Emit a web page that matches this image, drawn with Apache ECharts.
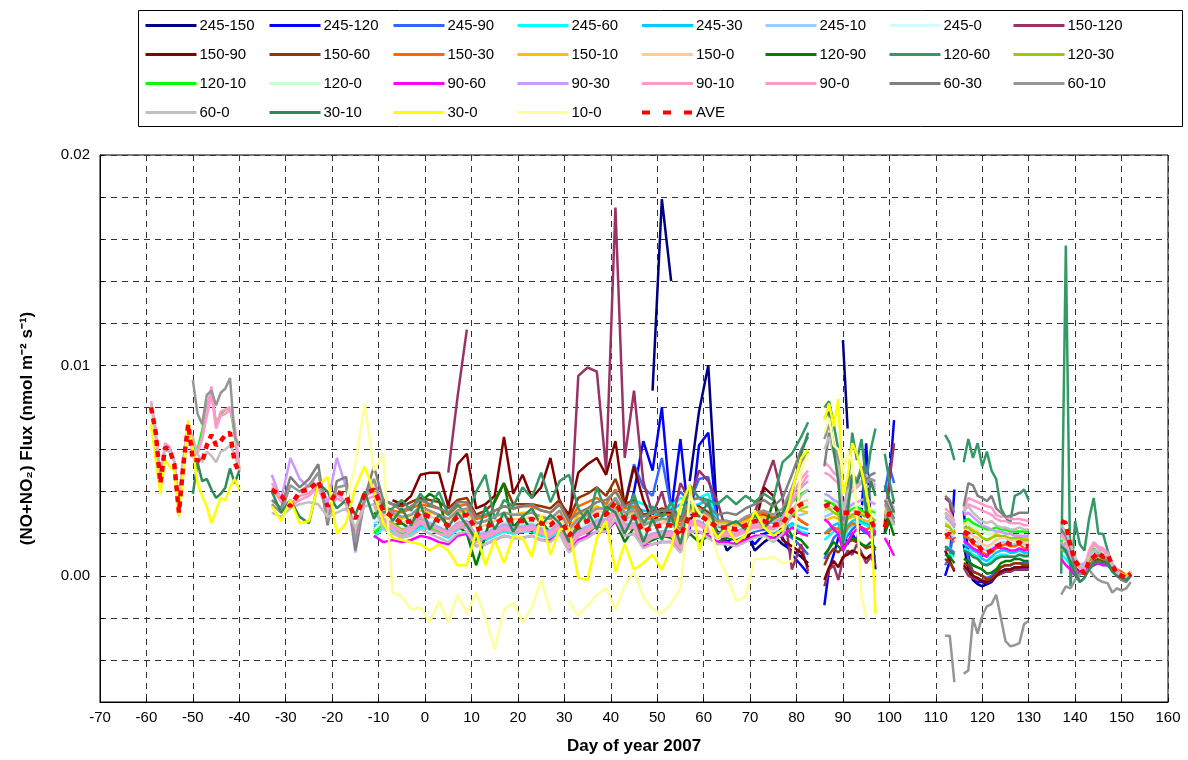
<!DOCTYPE html>
<html><head><meta charset="utf-8">
<script src="https://cdn.jsdelivr.net/npm/echarts@6/dist/echarts.min.js"></script>
<style>html,body{margin:0;padding:0;background:#fff}#c{width:1188px;height:760px}</style>
</head><body><div id="c"></div>
<script>
// Values in units of 1e-3 nmol m-2 s-1 ; null = no data
const _ = null;
const NA = n => Array(n).fill(null);

const days = [
  -59,-58,-57,-56,-55,-54,-53,-52,-51,-50,-49,-48,-47,-46,-45,-44,-43,-42,-41,-40,
  -36,
  -33,-31,-29,-27,-25,-23,-21,-19,-17,-15,-13,-11,-9,-7,-5,-3,-1,1,3,5,7,9,11,13,15,17,19,21,23,25,
  27,29,31,33,35,37,39,41,43,45,47,49,51,53,55,57,59,61,63,65,67,69,71,73,75,77,79,81,82.5,
  84,
  86,87,88,89,90,91,92,93,94,95,96,97,98,99,100,101,
  106,
  112,113,114,115,116,117,118,119,120,121,122,123,124,125,126,127,128,129,130,
  134,
  137,138,139,140,141,142,143,144,145,146,147,148,149,150,151,152
];

const names = ['245-150','245-120','245-90','245-60','245-30','245-10','245-0','150-120',
  '150-90','150-60','150-30','150-10','150-0','120-90','120-60','120-30',
  '120-10','120-0','90-60','90-30','90-10','90-0','60-30','60-10',
  '60-0','30-10','30-0','10-0','AVE'];
const colors = ['#000080','#0000FF','#3366FF','#00FFFF','#00CCFF','#99CCFF','#CCFFFF','#993366',
  '#800000','#993300','#FF6600','#FFC000','#FFCC99','#008000','#339966','#99CC00',
  '#00FF00','#CCFFCC','#FF00FF','#CC99FF','#FF99CC','#FF99CC','#808080','#969696',
  '#C0C0C0','#2E8B57','#FFFF00','#FFFF99','#FF0000'];

const s245_150 = [...NA(20),_,
  ...NA(41),8.8,17.9,14.0,_,4.5,7.8,10.0,2.4,1.2,1.6,2.2,1.2,1.6,1.9,1.5,1.2,0.9,0.6,_,
  _,_,_,_,11.2,7.0,_,_,_,_,_,_,_,_,_,_,_,
  _,_,_,_,1.5,0.3,-0.2,-0.4,-0.5,-0.4,-0.3,0.0,0.1,0.2,0.2,0.3,0.3,0.3,0.3,_,
  ...NA(16)];
const s245_120 = [...NA(20),_,
  ...NA(11),2.2,2.6,2.4,2.0,2.3,2.6,2.5,2.2,2.0, 2.5,2.7,1.8,1.9,2.2,2.4,2.3,2.2,2.5,2.2,
  2.0,2.5,1.5,2.2,2.4,2.6,2.5,3.0,2.4,4.0, 6.4,5.0,8.0,3.0,6.5,2.2,6.2,6.8,2.4,1.6,
  1.9,2.0,1.5,2.0,2.1,1.8,1.0,0.5,0.1,_,
  -1.4,0.3,1.0,1.8,2.2,1.5,2.0,1.6,3.0,6.3,2.5,0.3,_,2.0,4.5,7.4,_,
  0.0,0.7,4.1,_,3.1,1.0,-0.1,-0.3,-0.3,-0.4,-0.25,0.15,0.2,0.3,0.3,0.4,0.4,0.4,0.4,_,
  ...NA(16)];
const s245_90 = [...NA(20),_,
  ...NA(11),2.3,2.5,2.3,2.1,2.2,2.5,2.4,2.2,2.0, 2.4,2.5,1.8,1.9,2.1,2.3,2.2,2.2,2.3,2.1,
  2.0,2.4,1.5,2.1,2.3,2.6,2.6,3.2,3.4,5.3, 4.2,3.8,5.6,3.2,4.0,3.5,4.6,4.7,2.6,1.8,
  1.8,2.0,2.1,2.2,2.0,2.1,1.8,1.4,1.0,_,
  0.8,1.3,1.8,2.0,1.6,1.9,2.2,2.4,2.2,2.0,2.1,1.9,_,4.0,5.2,4.4,_,
  0.5,0.9,2.5,_,2.0,0.8,0.2,0.1,0.0,-0.1,0.0,0.3,0.4,0.5,0.5,0.6,0.6,0.6,0.6,_,
  ...NA(16)];
const s245_60 = [...NA(20),_,
  ...NA(11),1.8,2.3,2.1,1.9,2.0,2.3,2.2,2.0,1.8, 2.2,2.3,1.6,1.7,1.9,2.1,2.0,2.1,2.1,1.9,
  1.8,2.2,1.3,1.9,2.1,2.4,2.4,3.0,2.4,3.6, 3.4,3.2,2.9,3.3,3.7,3.6,3.7,3.9,2.5,2.2,
  2.0,2.2,2.4,2.4,2.2,2.3,2.4,2.1,2.0,_,
  1.7,1.9,2.1,2.3,1.5,2.2,2.4,2.6,2.5,2.4,2.3,2.2,_,2.8,3.0,2.5,_,
  1.1,1.0,0.9,_,1.3,1.2,1.0,0.9,0.6,0.5,0.7,0.9,1.0,1.0,0.9,0.9,1.0,0.9,0.9,_,
  1.0,0.8,0.5,0.2,0.1,0.1,0.3,0.5,0.6,0.5,0.5,0.2,0.0,-0.1,-0.1,0.0];
const s245_30 = [...NA(20),_,
  ...NA(11),2.4,2.4,2.2,2.0,2.1,2.4,2.3,2.1,1.9, 2.3,2.4,1.7,1.8,2.0,2.2,2.1,2.1,2.2,2.0,
  1.9,2.3,1.4,2.0,2.2,2.5,2.5,3.1,2.6,3.3, 3.1,3.0,2.8,3.1,3.4,3.3,3.4,3.6,2.3,2.0,
  1.9,2.1,2.3,2.3,2.1,2.2,2.5,2.3,2.2,_,
  2.0,2.2,2.4,2.5,1.8,2.4,2.6,2.7,2.6,2.5,2.4,2.3,_,2.9,3.1,2.7,_,
  1.4,1.3,1.1,_,1.5,1.4,1.2,1.1,0.8,0.7,0.9,1.1,1.2,1.2,1.1,1.1,1.2,1.1,1.1,_,
  1.3,1.1,0.7,0.3,0.2,0.2,0.5,0.7,0.7,0.6,0.6,0.3,0.0,-0.1,-0.1,0.0];
const s245_10 = [...NA(20),_,
  ...NA(11),2.5,2.7,2.5,2.2,2.3,2.7,2.5,2.3,2.1, 2.5,2.6,2.0,2.1,2.3,2.5,2.4,2.4,2.5,2.3,
  2.2,2.6,1.7,2.2,2.4,2.7,2.7,3.3,2.5,2.9, 2.5,2.6,2.5,2.7,2.4,3.0,3.0,3.1,2.2,2.1,
  2.0,2.2,2.4,2.4,2.2,2.3,2.8,2.9,3.0,_,
  2.8,2.9,3.0,2.9,2.2,2.8,2.9,3.0,2.9,2.8,2.7,2.6,_,3.1,3.2,2.9,_,
  2.0,2.0,1.8,_,2.1,2.0,1.7,1.6,1.3,1.2,1.3,1.5,1.6,1.6,1.5,1.5,1.6,1.5,1.5,_,
  2.0,1.8,1.2,0.7,0.4,0.3,0.8,1.0,1.0,0.9,0.9,0.5,0.1,0.0,-0.1,0.1];
const s245_0 = [...NA(20),_,
  ...NA(11),2.6,2.8,2.6,2.3,2.4,2.8,2.6,2.4,2.2, 2.6,2.7,2.1,2.2,2.4,2.6,2.5,2.5,2.6,2.4,
  2.3,2.7,1.8,2.3,2.5,2.8,2.8,3.4,2.6,2.7, 2.0,2.2,2.3,2.3,1.8,2.8,2.8,2.5,2.2,2.2,
  2.1,2.3,2.5,2.5,2.3,2.4,3.0,3.3,3.4,_,
  3.0,3.1,3.2,3.0,2.4,3.0,3.1,3.1,3.0,2.9,2.8,2.7,_,3.2,3.3,3.0,_,
  2.1,2.1,1.9,_,2.2,2.1,1.8,1.7,1.4,1.3,1.4,1.6,1.7,1.7,1.6,1.6,1.7,1.6,1.6,_,
  2.2,2.0,1.3,0.7,0.4,0.3,0.8,1.0,1.0,0.9,0.9,0.5,0.1,0.0,-0.1,0.1];
const s150_120 = [...NA(20),_,
  ...NA(19),4.9,8.5,11.7,...NA(10),1.3,9.5,9.9,9.7,5.0,17.5,5.6,8.8,4.5,2.9,
  4.0,2.3,4.4,3.6,5.0,4.5,3.5,2.0,1.8,2.0, 3.0,4.3,5.5,3.7,0.3,1.5,0.2,_,
  -0.5,0.3,0.5,-0.2,0.8,1.2,1.0,1.5,1.1,0.6,0.9,0.5,_,2.5,4.5,6.3,_,
  3.7,3.5,2.0,_,0.4,0.0,-0.1,-0.2,-0.2,-0.3,-0.2,0.0,0.1,0.2,0.2,0.3,0.3,0.3,0.3,_,
  ...NA(16)];
const s150_90 = [...NA(20),_,
  ...NA(13),3.6,3.4,3.8,4.8,4.9,4.9,3.3, 5.3,5.8,3.2,3.4,3.8,6.6,3.9,4.8,3.7,4.2,
  5.6,3.5,2.9,4.9,5.3,5.6,4.8,6.4,3.3,5.2, 3.6,2.6,3.0,3.0,2.8,2.7,3.0,2.8,2.1,1.9,
  1.7,1.7,2.3,4.2,3.8,1.7,1.4,1.1,0.4,_,
  -0.2,0.4,0.7,0.4,0.9,1.0,1.2,1.1,1.0,0.8,1.0,0.9,_,2.4,3.4,3.5,_,
  1.2,0.7,0.2,_,0.5,0.25,0.0,-0.1,-0.25,-0.3,-0.2,0.0,0.2,0.3,0.3,0.4,0.4,0.45,0.45,_,
  ...NA(16)];
const s150_60 = [...NA(20),_,
  ...NA(11),3.4,3.6,3.4,3.3,3.5,3.7,3.6,3.5,3.2, 3.6,3.7,2.9,3.1,3.5,4.4,3.4,3.4,3.4,3.3,
  3.2,3.6,2.7,3.7,3.9,4.2,3.8,4.6,3.4,3.6, 2.9,3.0,3.2,3.1,2.6,3.3,3.3,3.0,2.6,2.6,
  2.4,2.6,2.8,2.9,2.7,2.6,2.9,2.6,2.4,_,
  0.5,1.0,1.3,1.1,1.4,1.6,1.7,1.6,1.5,1.3,1.4,1.2,_,2.2,2.9,3.1,_,
  0.8,0.6,0.3,_,0.6,0.5,0.2,0.1,0.0,-0.2,-0.1,0.1,0.4,0.5,0.5,0.6,0.6,0.5,0.5,_,
  1.5,1.2,0.8,0.4,0.2,0.3,0.3,0.7,0.8,0.7,0.7,0.3,0.1,0.0,-0.1,0.1];
const s150_30 = [...NA(20),_,
  ...NA(11),3.2,3.3,3.1,3.0,3.2,3.4,3.3,3.2,2.9, 3.3,3.4,2.7,2.8,3.1,3.3,3.2,3.3,3.3,3.1,
  3.0,3.4,2.5,3.3,3.5,3.7,3.4,4.1,3.2,3.3, 2.6,2.8,2.9,2.9,2.4,3.2,3.2,2.9,2.6,2.6,
  2.5,2.7,2.9,3.0,2.8,2.9,3.0,2.6,2.4,_,
  2.0,2.1,2.3,2.2,1.9,2.3,2.5,2.4,2.3,2.2,2.3,2.1,_,2.9,3.2,2.9,_,
  1.8,1.8,1.6,_,1.9,1.8,1.5,1.4,1.1,1.0,1.1,1.3,1.4,1.5,1.4,1.4,1.5,1.3,1.3,_,
  1.9,1.7,1.1,0.6,0.4,0.4,0.7,0.9,0.9,0.8,0.8,0.4,0.3,0.2,0.0,0.2];
const s150_10 = [...NA(20),_,
  ...NA(11),3.0,3.0,2.9,2.7,2.9,3.1,3.0,2.9,2.7, 3.0,3.1,2.5,2.6,2.8,3.0,2.9,3.0,3.0,2.8,
  2.7,3.1,2.2,2.9,3.1,3.3,3.1,3.7,2.9,3.0, 2.4,2.6,2.7,2.7,2.2,3.1,3.1,2.8,2.5,2.5,
  2.4,2.6,2.8,2.8,2.6,2.8,3.2,3.1,3.0,_,
  2.6,2.7,2.8,2.7,2.3,2.7,2.8,2.8,2.7,2.6,2.6,2.4,_,3.0,3.3,3.0,_,
  2.5,2.4,2.1,_,2.5,2.5,2.2,2.1,1.8,1.7,1.8,2.0,2.0,2.0,1.9,1.9,1.9,1.8,1.8,_,
  2.2,1.9,1.3,0.8,0.5,0.5,0.9,1.1,1.0,1.0,0.9,0.5,0.2,0.1,0.0,0.2];
const s150_0 = [...NA(20),_,
  ...NA(11),2.8,2.9,2.7,2.5,2.7,2.9,2.8,2.7,2.5, 2.9,2.9,2.3,2.4,2.6,2.8,2.7,2.7,2.8,2.6,
  2.5,2.9,2.0,2.6,2.8,3.1,3.0,3.6,2.8,2.9, 2.2,2.4,2.5,2.5,2.0,3.0,3.0,2.7,2.4,2.4,
  2.3,2.5,2.7,2.7,2.5,2.6,3.2,3.5,3.6,_,
  3.1,3.2,3.3,3.1,2.5,3.0,3.1,3.1,3.0,2.9,2.8,2.6,_,3.2,3.4,3.1,_,
  2.2,2.1,1.9,_,2.3,2.2,1.9,1.8,1.5,1.4,1.5,1.7,1.8,1.8,1.7,1.7,1.8,1.6,1.6,_,
  2.3,2.0,1.4,0.8,0.5,0.4,0.9,1.1,1.1,1.0,0.9,0.5,0.1,0.0,-0.1,0.1];
const s120_90 = [...NA(20),_,
  ...NA(11),3.0,2.6,2.4,2.5,2.2,3.5,3.9,3.6,2.0, 2.4,2.0,0.5,1.9,3.6,4.4,2.3,2.8,2.1,2.6,
  2.0,2.4,1.3,2.3,2.0,2.4,2.2,2.6,1.6,2.3, 1.5,1.7,1.9,1.8,1.4,2.0,1.6,1.9,1.6,1.8,
  1.7,2.1,2.4,2.2,3.5,2.7,1.9,1.7,1.3,_,
  1.0,1.3,1.6,1.4,1.2,1.6,1.8,1.7,1.5,1.4,1.6,1.3,_,2.0,2.6,1.9,_,
  1.0,0.9,0.6,_,0.8,0.7,0.5,0.4,0.3,0.1,0.15,0.3,0.6,0.7,0.7,0.8,0.8,0.7,0.7,_,
  ...NA(16)];
const s120_60 = [...NA(20),_,
  ...NA(11),3.6,3.0,3.2,3.6,3.1,3.9,3.3,4.0,2.9, 3.4,2.8,4.0,4.8,2.7,3.6,3.3,4.2,3.7,4.9,
  3.5,4.5,4.8,3.2,2.5,4.2,3.0,3.7,2.6,3.9, 2.4,3.3,2.8,3.5,2.6,4.3,3.7,3.6,3.4,3.8,
  3.4,3.8,3.5,3.9,3.6,5.4,5.8,6.6,7.3,_,
  8.0,8.3,7.2,6.0,1.8,4.0,6.8,5.5,6.5,4.5,6.0,7.0,_,5.8,4.5,3.5,_,
  6.7,6.3,5.5,_,5.4,6.5,5.6,6.3,5.2,5.9,5.0,4.6,3.2,2.8,2.5,3.8,3.9,4.1,3.6,_,
  0.1,15.7,-0.5,2.6,1.5,1.2,2.7,3.7,2.0,2.0,1.2,0.5,0.3,0.0,-0.1,0.05];
const s120_30 = [...NA(20),_,
  ...NA(11),2.1,2.7,2.5,2.2,2.3,2.7,2.5,2.3,2.1, 2.5,2.6,1.9,2.0,2.2,2.4,2.3,2.3,2.4,2.2,
  2.1,2.5,1.6,2.1,2.3,2.6,2.6,3.2,2.4,2.5, 1.8,2.0,2.1,2.1,1.6,2.6,2.6,2.3,2.0,2.0,
  1.9,2.1,2.3,2.4,2.2,2.4,2.9,3.2,3.3,_,
  3.3,3.2,3.0,2.9,2.2,2.7,2.9,3.0,2.9,2.8,2.8,2.6,_,2.9,3.0,2.7,_,
  2.4,2.3,2.0,_,2.3,2.3,2.1,2.0,1.8,1.7,1.8,1.9,1.9,1.9,1.8,1.8,1.8,1.7,1.7,_,
  1.2,1.6,1.1,0.6,0.4,0.4,0.8,1.0,0.9,0.8,0.8,0.4,0.1,-0.1,-0.1,0.1];
const s120_10 = [...NA(9),6.1,6.0,6.9,8.0,8.8,7.2,7.7,7.9,8.0,6.8,5.1,_,
  ...NA(11),2.0,2.5,2.3,2.0,2.2,2.5,2.3,2.1,1.9, 2.3,2.4,1.7,1.8,2.0,2.2,2.1,2.2,2.3,2.0,
  1.9,2.3,1.4,2.0,2.2,2.4,2.4,3.0,2.2,2.3, 1.6,1.8,1.9,1.9,1.4,2.4,2.5,2.2,1.9,1.9,
  1.8,2.0,2.3,2.5,2.2,2.7,3.5,3.9,4.1,_,
  3.6,3.5,3.4,3.2,2.5,3.0,3.2,3.3,3.1,3.0,3.1,3.0,_,2.7,3.0,2.4,_,
  3.0,2.8,2.4,_,2.6,2.7,2.5,2.4,2.3,2.2,2.2,2.3,2.2,2.2,2.1,2.1,2.1,2.1,2.1,_,
  1.6,2.0,1.4,0.8,0.5,0.5,1.0,1.3,1.1,1.0,0.9,0.5,0.1,0.0,-0.1,0.1];
const s120_0 = [...NA(20),_,
  ...NA(11),2.2,2.6,2.4,2.1,2.2,2.6,2.4,2.2,2.0, 2.4,2.5,1.8,1.9,2.1,2.3,2.2,2.2,2.3,2.1,
  2.0,2.4,1.5,2.0,2.2,2.5,2.5,3.1,2.3,2.4, 1.7,1.9,2.0,2.0,1.5,2.5,2.5,2.2,1.9,1.9,
  1.8,2.0,2.2,2.3,2.1,2.4,3.0,3.3,3.4,_,
  3.9,3.8,3.6,3.4,2.7,3.2,3.3,3.4,3.3,3.2,3.2,3.1,_,3.2,3.3,2.9,_,
  2.6,2.5,2.2,_,2.4,2.5,2.3,2.2,2.1,2.0,2.0,2.1,2.0,2.0,1.9,1.9,1.9,1.9,1.9,_,
  1.8,1.7,1.2,0.8,0.5,0.4,0.9,1.1,1.0,0.9,0.9,0.5,0.1,0.0,-0.1,0.1];
const s90_60 = [...NA(20),_,
  ...NA(11),1.9,1.6,1.7,1.6,1.7,1.9,1.8,1.6,1.5, 1.9,2.0,1.4,1.5,1.7,1.9,1.8,1.8,1.9,1.7,
  1.7,2.0,1.2,1.7,1.9,2.1,2.1,2.6,1.9,2.0, 1.4,1.5,1.6,1.6,1.2,2.1,2.1,1.9,1.6,1.6,
  1.5,1.7,1.9,1.9,1.8,1.9,2.3,2.0,1.9,_,
  2.7,2.5,2.2,2.0,1.2,1.6,2.0,2.2,2.3,2.15,1.8,2.15,_,1.8,1.4,0.95,_,
  1.25,1.2,1.1,_,1.65,1.5,1.3,1.2,1.0,0.9,1.2,1.4,1.3,1.3,1.2,1.2,1.3,1.2,1.25,_,
  0.8,0.5,0.3,0.0,0.2,0.3,0.4,0.5,0.6,0.5,0.5,0.3,0.0,-0.1,-0.1,0.0];
const s90_30 = [...NA(20),_,
  4.8,3.6,5.6,4.6,4.2,4.9,3.4,5.6,4.2,1.1, 3.6,4.6,2.6,2.3,2.1,2.4,2.8,2.5,2.3,2.1,
  2.5,2.6,1.9,2.0,2.2,2.4,2.3,2.3,2.4,2.2, 2.1,2.5,1.6,2.1,2.3,2.6,2.6,3.1,2.4,2.5,
  1.8,2.0,2.1,2.1,1.6,2.6,2.6,2.3,2.0,2.1, 2.1,2.3,2.5,2.6,2.5,2.8,3.6,4.2,4.5,_,
  3.9,3.8,3.6,3.5,2.5,3.2,3.4,3.5,3.6,3.7,3.5,3.4,_,2.8,3.0,2.6,_,
  2.8,2.6,2.3,_,2.9,3.0,2.8,2.6,2.4,2.3,2.2,2.1,2.1,2.0,2.0,1.9,1.9,1.9,1.9,_,
  1.6,1.3,0.9,0.6,0.5,0.6,0.9,1.2,0.9,1.0,0.9,0.5,0.1,0.0,-0.1,0.0];
const s90_10 = [8.3,7.0,4.6,6.3,6.1,5.4,3.2,5.6,7.3,5.6,5.9,6.6,7.8,9.0,7.1,7.8,7.9,8.0,7.2,5.0,_,
  4.4,3.7,3.4,3.8,3.9,4.4,3.1,3.9,3.5,2.0, 3.8,4.0,2.7,2.4,2.1,2.2,2.6,2.4,2.2,2.0,
  2.4,2.5,1.8,1.9,2.1,2.3,2.2,2.2,2.3,2.1, 2.0,2.4,1.5,2.0,2.2,2.5,2.5,3.1,2.3,2.4,
  1.7,1.9,2.0,2.0,1.5,2.5,2.5,2.2,1.9,2.0, 2.0,2.2,2.4,2.4,2.3,2.6,3.8,4.6,5.0,_,
  4.9,4.8,4.6,4.4,3.0,3.8,4.0,4.2,4.4,4.6,4.4,4.2,_,3.4,3.5,3.1,_,
  3.2,3.0,2.6,_,3.2,3.7,3.6,3.5,3.4,3.3,3.25,2.9,2.8,2.8,2.7,2.7,2.7,2.65,2.6,_,
  2.0,1.8,1.2,0.8,0.5,0.3,1.2,1.6,1.4,1.3,1.1,0.6,0.3,0.0,-0.1,0.1];
const s90_0 = [...NA(9),6.0,5.8,6.5,7.6,8.6,7.0,7.6,7.7,7.9,7.0,5.0,_,
  4.2,3.5,3.3,3.6,3.8,4.2,3.0,3.7,3.4,1.8, 3.6,3.8,2.6,2.2,1.9,2.1,2.5,2.2,2.0,1.9,
  2.3,2.3,1.6,1.8,2.0,2.2,2.1,2.1,2.2,2.0, 1.9,2.3,1.3,1.9,2.1,2.4,2.3,2.9,2.2,2.3,
  1.5,1.8,1.9,1.9,1.3,2.4,2.4,2.1,1.8,1.9, 1.9,2.1,2.3,2.3,2.2,2.5,3.5,4.3,4.8,_,
  5.4,5.2,4.9,4.7,3.2,4.0,4.2,4.4,4.5,4.8,4.5,4.3,_,3.6,3.6,3.2,_,
  3.0,2.8,2.4,_,3.0,3.4,3.3,3.2,3.1,3.0,2.9,2.7,2.6,2.6,2.5,2.5,2.5,2.4,2.4,_,
  1.9,1.7,1.0,0.6,0.4,0.3,1.1,1.5,1.3,1.2,1.0,0.5,0.2,0.0,-0.1,0.1];
const s60_30 = [...NA(20),_,
  3.6,3.2,4.7,4.2,4.6,5.3,2.4,4.5,4.7,1.2, 3.7,5.2,3.6,3.4,3.1,3.3,3.6,3.4,3.2,3.0,
  3.5,3.5,2.8,2.9,3.1,3.3,3.2,3.3,3.4,3.1, 3.0,3.4,2.6,3.0,3.2,3.5,3.6,4.0,3.3,3.5,
  2.8,3.0,3.1,3.1,2.6,3.6,3.7,3.3,2.9,3.0, 2.9,3.2,3.4,3.6,3.3,3.7,4.8,6.0,6.6,_,
  5.2,6.8,5.9,5.0,2.6,3.8,4.7,4.5,5.2,4.5,4.8,4.9,_,3.6,3.2,2.7,_,
  3.8,3.6,3.0,_,3.3,4.4,4.3,3.8,3.7,3.55,3.8,3.2,3.0,2.8,2.85,2.9,3.0,3.0,3.0,_,
  2.2,1.9,1.3,0.4,-0.3,-0.1,0.4,0.8,1.0,0.8,0.7,0.3,0.0,-0.2,-0.3,0.0];
const s60_10 = [...NA(9),9.3,7.7,7.2,8.6,8.8,8.1,8.7,8.9,9.4,6.6,6.2,_,
  3.4,3.0,4.3,4.0,4.3,4.9,2.6,4.2,4.3,1.6, 3.6,4.6,3.2,3.0,2.8,2.9,3.3,3.1,2.9,2.7,
  3.1,3.2,2.5,2.6,2.8,3.0,2.9,2.9,3.0,2.8, 2.7,3.1,2.2,2.7,2.9,3.2,3.2,3.7,3.0,3.1,
  2.4,2.6,2.7,2.7,2.2,3.2,3.2,2.9,2.6,2.6, 2.5,2.8,3.0,3.1,2.9,3.2,4.2,5.4,5.9,_,
  6.5,7.2,6.3,5.5,2.8,4.2,4.8,4.6,5.0,4.4,4.6,4.5,_,3.4,3.0,2.5,_,
  -2.85,-2.85,-5.05,_,-4.65,-4.5,-2.05,-2.75,-1.9,-1.45,-1.35,-0.9,-2.0,-3.1,-3.35,-3.3,-3.2,-2.3,-2.15,_,
  -0.9,-0.5,-0.6,-0.2,0.05,0.2,0.3,0.0,-0.2,-0.3,-0.35,-0.8,-0.6,-0.7,-0.6,-0.3];
const s60_0 = [8.2,6.6,4.6,6.0,5.9,5.5,3.5,5.6,7.1,6.6,5.8,5.4,5.9,5.7,5.4,5.9,6.0,6.2,5.8,5.0,_,
  3.0,2.8,3.2,3.4,3.5,3.4,2.8,3.0,3.2,2.3, 3.3,3.4,2.2,2.0,1.8,1.9,2.2,2.0,1.8,1.6,
  2.0,2.1,1.4,1.5,1.7,1.9,1.8,1.8,1.9,1.7, 1.6,2.0,1.1,1.6,1.8,2.1,2.1,2.7,1.9,2.0,
  1.3,1.5,1.6,1.6,1.1,2.1,2.1,1.8,1.5,1.5, 1.4,1.6,1.8,1.9,1.6,2.0,3.0,3.8,4.1,_,
  6.0,6.6,5.8,5.2,2.9,4.0,4.4,4.3,4.5,4.2,4.3,4.1,_,3.0,2.8,2.4,_,
  2.9,2.8,2.5,_,3.1,3.3,3.0,2.8,2.6,2.5,2.6,2.4,2.3,2.3,2.2,2.2,2.3,2.2,2.2,_,
  2.4,2.1,1.5,0.9,0.5,0.4,0.9,1.2,1.2,1.0,1.0,0.5,0.1,-0.1,-0.1,0.0];
const s30_10 = [...NA(9),3.9,5.4,4.5,4.6,4.1,3.7,3.9,4.2,5.1,4.4,5.0,_,
  4.0,3.0,3.6,2.8,2.5,4.4,4.0,3.2,3.6,2.9, 4.0,2.7,3.5,2.6,3.2,2.4,3.4,2.2,2.9,2.3,
  3.0,2.4,1.7,3.3,2.2,3.0,2.1,2.8,3.2,2.4, 2.9,2.5,1.6,2.5,3.1,2.2,3.3,3.0,2.0,2.9,
  1.6,2.7,1.7,2.9,1.5,3.4,2.8,3.5,1.9,2.4, 2.6,2.2,2.9,2.3,2.7,3.0,3.9,5.8,6.8,_,
  7.5,7.8,6.0,4.5,1.5,3.0,4.8,4.4,5.0,3.0,4.5,3.8,_,4.3,3.6,3.0,_,
  1.4,1.2,1.0,_,1.2,1.1,0.9,0.8,0.55,0.5,0.6,0.8,0.9,0.9,0.9,0.9,1.0,0.95,0.95,_,
  1.4,1.2,0.6,0.1,-0.3,-0.1,0.3,0.6,0.7,0.6,0.6,0.2,0.0,-0.1,-0.2,0.0];
const s30_0 = [7.2,5.5,3.9,5.5,5.2,5.0,2.8,4.9,7.4,6.0,4.4,3.8,3.3,2.5,3.1,3.7,3.6,4.2,4.6,4.1,_,
  3.3,2.6,3.6,2.5,2.6,4.3,4.7,2.0,2.5,4.2, 5.2,4.0,2.5,1.8,1.7,1.6,1.5,1.2,1.5,1.2,
  0.5,0.5,2.1,0.5,1.7,0.6,1.9,1.8,0.9,2.9, 1.0,2.2,2.3,-0.1,-0.2,1.8,2.6,0.2,1.5,0.3,
  0.6,1.0,0.3,1.3,3.3,4.3,1.2,2.6,1.8,2.3, 1.6,1.9,3.1,2.3,1.9,2.2,4.0,5.6,6.0,_,
  7.4,8.2,7.1,8.4,3.9,4.7,6.3,5.8,5.0,4.0,2.9,-1.8,_,_,_,_,_,
  ...NA(19),_,
  ...NA(16)];
const s10_0 = [...NA(20),_,
  ...NA(8),3.5,5.3, 8.2,5.0,5.8,-0.8,-1.0,-1.6,-1.5,-2.2,-1.2,-2.2,
  -0.9,-1.8,-0.8,-2.0,-3.5,-1.6,-1.3,-2.2,-1.5,-0.2, -1.7,_,-1.2,-1.9,-1.4,-0.9,-0.6,-1.6,-0.5,0.2,
  -1.0,-1.6,-1.8,-1.3,-0.6,3.8,3.0,2.6,1.0,0.0, -1.2,-1.0,0.8,0.8,0.9,0.6,0.7,5.0,5.8,_,
  6.8,7.5,6.2,6.0,5.0,5.8,5.5,3.0,-1.0,-2.0,_,_,_,_,_,_,_,
  ...NA(19),_,
  ...NA(16)];
const ave = [8.0,6.8,4.4,6.1,6.0,5.3,3.0,5.4,7.2,5.5,5.5,5.4,6.2,6.7,6.2,6.4,6.7,6.8,5.4,4.9,_,
  4.1,3.8,3.3,4.0,4.1,4.5,3.3,4.0,3.8,2.7, 3.9,4.1,3.1,2.8,2.5,2.6,3.0,2.8,2.6,2.4,
  2.8,2.9,2.2,2.3,2.5,2.7,2.6,2.6,2.7,2.5, 2.4,2.8,1.9,2.4,2.6,2.9,2.9,3.5,2.7,2.8,
  2.1,2.3,2.4,2.4,1.9,2.9,2.9,2.6,2.3,2.3, 2.2,2.4,2.6,2.6,2.4,2.5,3.1,3.4,3.5,_,
  3.3,3.4,3.3,3.1,3.0,3.0,3.0,3.0,2.9,2.95,2.7,2.1,_,2.3,3.0,2.8,_,
  1.9,2.0,1.75,_,2.1,2.0,1.6,1.5,1.2,1.1,1.2,1.4,1.5,1.6,1.5,1.5,1.6,1.4,1.4,_,
  2.6,2.5,1.4,0.7,0.4,0.1,0.7,0.9,1.1,0.9,1.0,0.5,0.1,0.0,-0.1,0.1];

const values = [s245_150,s245_120,s245_90,s245_60,s245_30,s245_10,s245_0,s150_120,
  s150_90,s150_60,s150_30,s150_10,s150_0,s120_90,s120_60,s120_30,
  s120_10,s120_0,s90_60,s90_30,s90_10,s90_0,s60_30,s60_10,
  s60_0,s30_10,s30_0,s10_0,ave];

const series = values.map((arr, k) => {
  if (arr.length !== days.length) console.error('length mismatch', names[k], arr.length, days.length);
  const isAve = names[k] === 'AVE';
  return {
    name: names[k], type: 'line', symbol: 'none', connectNulls: false,
    data: days.map((d, i) => [d, arr[i] == null ? '-' : arr[i] / 1000]),
    lineStyle: isAve ? {color: colors[k], width: 4.5, type: [6, 5]} : {color: colors[k], width: 2.5},
    itemStyle: {color: colors[k]},
    emphasis: {disabled: true}, z: isAve ? 5 : 2
  };
});

const legends = [];
for (let c = 0; c < 8; c++) {
  const col = [];
  for (let r = 0; r < 4; r++) {
    const idx = r * 8 + c;
    if (idx < names.length) {
      const isAve = names[idx] === 'AVE';
      col.push({name: names[idx], lineStyle: isAve ? {width: 4, type: [8, 13]} : {width: 3}});
    }
  }
  legends.push({
    data: col, orient: 'vertical', left: 144 + c * 124, top: 18, padding: 0,
    itemStyle: {opacity: 0},
    itemWidth: 51, itemHeight: 14, itemGap: 14, selectedMode: false,
    textStyle: {fontFamily: 'Liberation Sans, Arial, sans-serif', fontSize: 15, color: '#000', lineHeight: 14, padding: [0, 0, 0, -2]}
  });
}

const chart = echarts.init(document.getElementById('c'), null, {renderer: 'canvas'});
chart.setOption({
  animation: false,
  backgroundColor: '#fff',
  textStyle: {fontFamily: 'Liberation Sans, Arial, sans-serif'},
  legend: legends,
  graphic: [{type: 'rect', shape: {x: 138.5, y: 10.5, width: 1044, height: 116}, style: {fill: 'none', stroke: '#000', lineWidth: 1}, silent: true}],
  grid: {left: 100, right: 20, top: 155, bottom: 58, show: true, borderColor: '#000', borderWidth: 1},
  xAxis: {
    type: 'value', min: -70, max: 160, interval: 10,
    name: 'Day of year 2007', nameLocation: 'middle', nameGap: 36,
    nameTextStyle: {fontSize: 17, fontWeight: 'bold', color: '#000'},
    axisLine: {onZero: false, lineStyle: {color: '#000'}},
    axisTick: {inside: true, length: 4, lineStyle: {color: '#000'}},
    axisLabel: {fontSize: 15, color: '#000', margin: 8},
    splitLine: {show: true, lineStyle: {color: '#333', type: [6, 5], width: 1}}
  },
  yAxis: {
    type: 'value', min: -0.006, max: 0.02, interval: 0.002,
    name: '(NO+NO\u2082) Flux (nmol m\u207B\u00B2 s\u207B\u00B9)', nameLocation: 'middle', nameGap: 64, nameRotate: 90,
    nameTextStyle: {fontSize: 17, fontWeight: 'bold', color: '#000'},
    axisLine: {show: true, onZero: false, lineStyle: {color: '#000'}},
    axisTick: {show: true, inside: true, length: 4, lineStyle: {color: '#000'}},
    axisLabel: {fontSize: 15, color: '#000', margin: 10,
      formatter: v => (Math.abs(v * 100 - Math.round(v * 100)) < 1e-6 ? v.toFixed(2) : '')},
    splitLine: {show: true, lineStyle: {color: '#333', type: [6, 5], width: 1}}
  },
  series: series
});
</script></body></html>
